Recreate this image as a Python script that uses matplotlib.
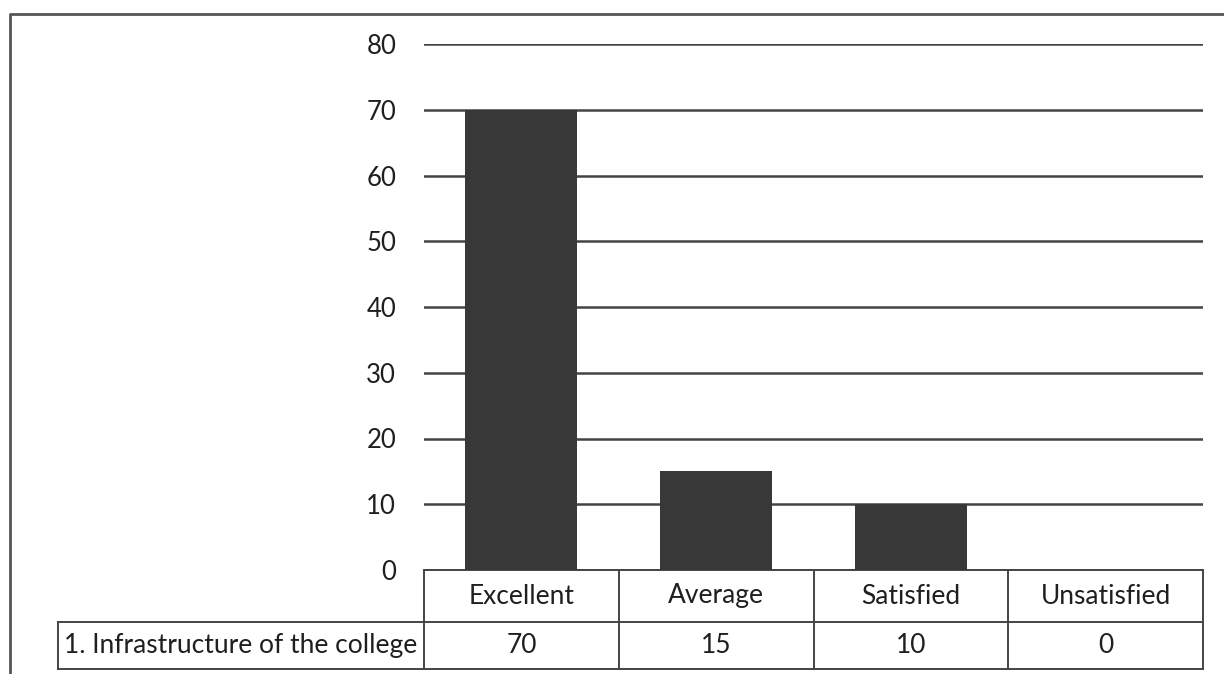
import matplotlib
matplotlib.use('Agg')
import matplotlib.pyplot as plt
from matplotlib.lines import Line2D
from matplotlib.transforms import blended_transform_factory

categories = ['Excellent', 'Average', 'Satisfied', 'Unsatisfied']
values = [70, 15, 10, 0]
row_label = '1. Infrastructure of the college'
y_ticks = [0, 10, 20, 30, 40, 50, 60, 70, 80]

plt.rcParams['font.family'] = ['Lato', 'DejaVu Sans']
TXT = '#1f1f1f'
LINE = '#444444'

W, H = 1224, 674
fig = plt.figure(figsize=(W / 100, H / 100), dpi=100)
fig.patch.set_facecolor('white')

# plot area in pixels: x 424..1203, y 44 (80) .. 570 (0)
ax = fig.add_axes([424 / W, (H - 570) / H, (1203 - 424) / W, (570 - 44) / H])
x = list(range(len(categories)))
ax.bar(x, values, width=0.575, color='#383838', zorder=3)
ax.set_xlim(-0.5, len(categories) - 0.5)
ax.set_ylim(0, 80)
ax.set_yticks(y_ticks)
ax.set_xticks([])
ax.tick_params(axis='y', length=0, pad=20, labelsize=18.5, labelcolor=TXT)
for s in ax.spines.values():
    s.set_visible(False)
ax.yaxis.grid(True, color=LINE, linewidth=1.8, zorder=0)
ax.set_axisbelow(True)

# data table under the chart
tr = blended_transform_factory(ax.transData, ax.transAxes)
ax_h = 570 - 44
y_head = -52 / ax_h
y_bot = -99 / ax_h
x_left = -0.5 + (58 - 424) / 195.0
lw = 1.4
edges = [i - 0.5 for i in range(len(categories) + 1)]
for e in edges:
    ax.add_line(Line2D([e, e], [0, y_bot], transform=tr, color=LINE, lw=lw, clip_on=False))
ax.add_line(Line2D([edges[0], edges[-1]], [0, 0], transform=tr, color=LINE, lw=lw, clip_on=False))
for yy in (y_head, y_bot):
    ax.add_line(Line2D([x_left, edges[-1]], [yy, yy], transform=tr, color=LINE, lw=lw, clip_on=False))
ax.add_line(Line2D([x_left, x_left], [y_head, y_bot], transform=tr, color=LINE, lw=lw, clip_on=False))

for i, (c, v) in enumerate(zip(categories, values)):
    ax.text(i, y_head / 2, c, transform=tr, ha='center', va='center', fontsize=19, color=TXT)
    ax.text(i, (y_head + y_bot) / 2, str(v), transform=tr, ha='center', va='center', fontsize=19, color=TXT)
ax.text(x_left + 0.03, (y_head + y_bot) / 2, row_label, transform=tr, ha='left', va='center',
        fontsize=19, color=TXT)

# outer chart frame (runs off the right and bottom edge)
fig.add_artist(Line2D([10 / W, 10 / W, 1.0], [0.0, (H - 14) / H, (H - 14) / H],
                      transform=fig.transFigure, color='#555555', lw=2.0))

fig.savefig('out.png', dpi=100)
